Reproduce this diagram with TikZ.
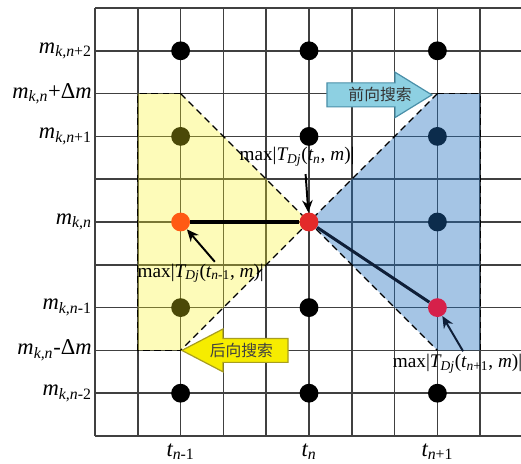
\documentclass[tikz,border=0pt]{standalone}
\usepackage{fontspec}
\setmainfont{Liberation Serif}
\newfontfamily\cjk{Noto Sans CJK SC}
\usetikzlibrary{arrows.meta}
\definecolor{gridc}{HTML}{404040}
\definecolor{ylw}{rgb}{0.98,0.96,0.1}
\definecolor{blu}{rgb}{0.12,0.43,0.75}
\definecolor{fwdfill}{HTML}{8DD0E2}
\definecolor{fwdline}{HTML}{4A8FA8}
\definecolor{bwdfill}{HTML}{F6EC00}
\definecolor{bwdline}{HTML}{A89E20}
\definecolor{orangedot}{HTML}{FF5A14}
\definecolor{reddot}{HTML}{E32A2A}
\definecolor{crimdot}{HTML}{D6204A}
\definecolor{navyline}{HTML}{0F1F38}
\newcommand{\ii}{\itshape}
\newcommand{\sbs}[1]{\textsubscript{#1}}
\begin{document}
\begin{tikzpicture}[x=1cm,y=1cm,
  gridline/.style={draw=gridc,line width=1pt},
  dotnode/.style={circle,fill=black,minimum size=0.44cm,inner sep=0pt},
  dashline/.style={draw=black,line width=0.9pt,dash pattern=on 4.5pt off 3pt},
  thickline/.style={line width=2pt},
  annot/.style={line width=1.3pt,-{Stealth[length=8pt,width=7pt]}},
  axislabel/.style={anchor=east,font=\fontsize{15}{17}\selectfont,inner sep=0pt},
  tlabel/.style={font=\fontsize{15}{17}\selectfont,inner sep=0pt},
  maxlabel/.style={font=\fontsize{12.8}{14}\selectfont,inner sep=1pt},
  cjklabel/.style={font=\cjk\fontsize{10.5}{12}\selectfont,inner sep=0pt}]
\useasboundingbox (-2.2196,-0.631) rectangle (9.953,10.187);
\fill[white] (-2.2196,-0.631) rectangle (9.953,10.187);
% grid
\foreach \i in {0,...,9} \draw[gridline] (\i,0) -- (\i,10);
\foreach \j in {0,...,10} \draw[gridline] (0,\j) -- (9.953,\j);
% black dots
\foreach \i/\j in {2/9,5/9,8/9,2/7,5/7,8/7,8/5,2/3,5/3,2/1,5/1,8/1}
  \node[dotnode] (d\i\j) at (\i,\j) {};
% overlays
\fill[ylw,opacity=0.3] (1,8) -- (2,8) -- (5,5) -- (2,2) -- (1,2) -- cycle;
\fill[blu,opacity=0.4] (5,5) -- (8,8) -- (9,8) -- (9,2) -- (8,2) -- cycle;
% dashed borders
\draw[dashline] (2,8) -- (1,8) -- (1,2) -- (2,2);
\draw[dashline] (2,8) -- (5,5) -- (2,2);
\draw[dashline] (8,8) -- (5,5) -- (8,2);
\draw[dashline] (8,8) -- (9,8) -- (9,2);
% coloured dots
\node[dotnode,fill=orangedot] (d25) at (2,5) {};
\node[dotnode,fill=reddot] (d55) at (5,5) {};
\node[dotnode,fill=crimdot] (d83) at (8,3) {};
% path
\draw[thickline,black] (d25) -- (d55);
\draw[thickline,navyline] (d55) -- (d83);
% block arrows
\filldraw[fill=fwdfill,draw=fwdline,line width=0.8pt] (5.42,7.69) -- (7.01,7.69) -- (7.01,7.44) -- (7.87,7.97) -- (7.01,8.50) -- (7.01,8.25) -- (5.42,8.25) -- cycle;
\node[cjklabel,text=black!80] (fwd) at (6.66,7.97) {前向搜索};
\filldraw[fill=bwdfill,draw=bwdline,line width=0.8pt] (4.51,1.72) -- (2.99,1.72) -- (2.99,1.50) -- (2.03,2.0) -- (2.99,2.50) -- (2.99,2.28) -- (4.51,2.28) -- cycle;
\node[cjklabel,text=black!75] (bwd) at (3.42,2.0) {后向搜索};
% max labels
\node[maxlabel] (L55) at (4.72,6.52) {max|{\ii T}\sbs{\ii Dj}({\ii t}\sbs{\ii n}, {\ii m})|};
\node[maxlabel] (L25) at (2.47,3.8) {max|{\ii T}\sbs{\ii Dj}({\ii t}\sbs{{\ii n}-1}, {\ii m})|};
\node[maxlabel] (L83) at (8.47,1.68) {max|{\ii T}\sbs{\ii Dj}({\ii t}\sbs{{\ii n}+1}, {\ii m})|};
\coordinate (a55) at (4.92,6.12);
\coordinate (a25) at (2.8,4.07);
\coordinate (a83) at (8.6,1.98);
\draw[annot] (a55) -- (d55);
\draw[annot] (a25) -- (d25);
\draw[annot,navyline] (a83) -- (d83);
% axis labels
\node[axislabel] (m9) at (-0.07,9) {{\ii m}\sbs{{\ii k,n}+2}};
\node[axislabel] (m8) at (-0.07,8) {{\ii m}\sbs{\ii k,n}+Δ{\ii m}};
\node[axislabel] (m7) at (-0.07,7) {{\ii m}\sbs{{\ii k,n}+1}};
\node[axislabel] (m5) at (-0.07,5) {{\ii m}\sbs{\ii k,n}};
\node[axislabel] (m3) at (-0.07,3) {{\ii m}\sbs{{\ii k,n}-1}};
\node[axislabel] (m2) at (-0.07,2) {{\ii m}\sbs{\ii k,n}-Δ{\ii m}};
\node[axislabel] (m1) at (-0.07,1) {{\ii m}\sbs{{\ii k,n}-2}};
\node[tlabel] (t2) at (2,-0.37) {{\ii t}\sbs{{\ii n}-1}};
\node[tlabel] (t5) at (5,-0.37) {{\ii t}\sbs{\ii n}};
\node[tlabel] (t8) at (8,-0.37) {{\ii t}\sbs{{\ii n}+1}};
\end{tikzpicture}
\end{document}
